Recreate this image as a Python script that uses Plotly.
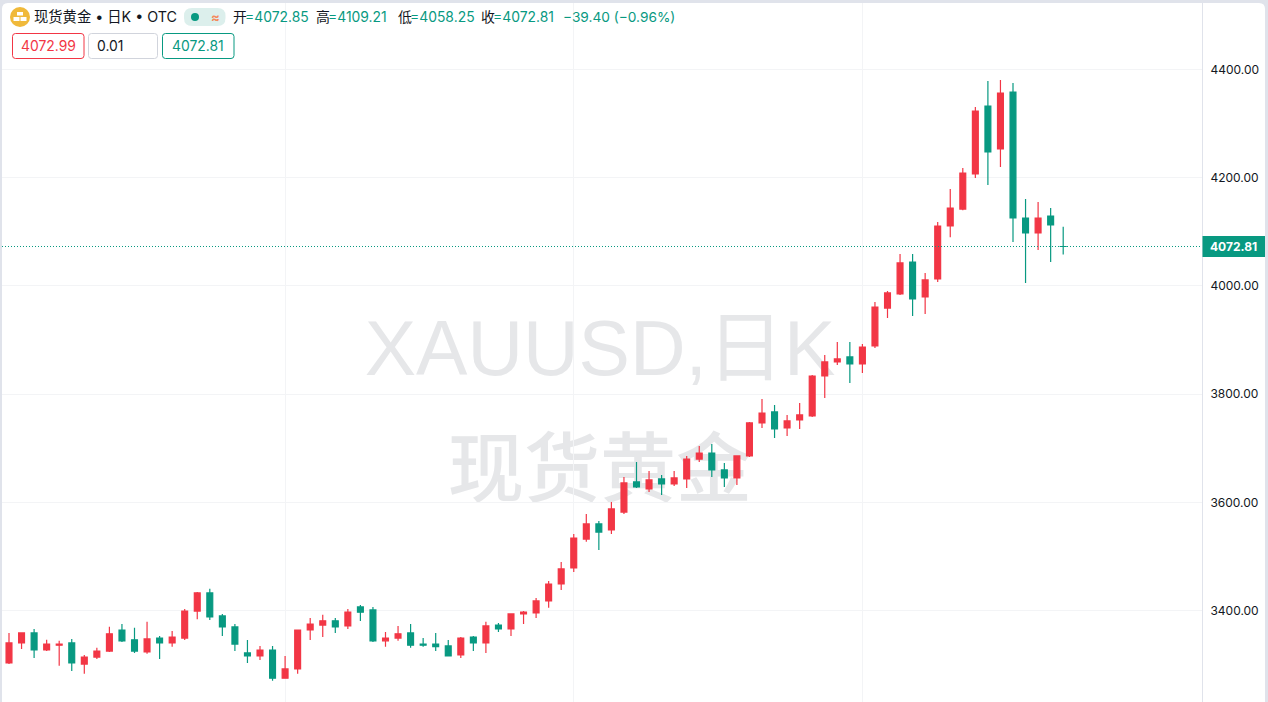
import plotly.graph_objects as go

GREEN = "#089981"
RED = "#f23645"
INK = "#131722"
FONT = "Inter, 'Noto Sans CJK SC', sans-serif"

opens = [3303,3340,3358.6,3327,3336,3340,3301,3314,3325,3364,3346,3323.5,3349,3340,3349,3399,3432.5,3390,3369.7,3321.6,3316,3327,3275,
         3292,3364,3373,3381,3371.5,3406.6,3401,3344,3349,3358.6,3338,3338,3334.5,3318,3351,3340,3373,3366,3393.7,3395.5,3417.7,3449,3478.7,
         3532,3560,3549,3582,3637.7,3624.7,3643.2,3634,3643.2,3680,3691,3659.8,3645,3685.7,3746.7,3767,3737.5,3752.2,3759.6,3833.5,3859.4,3868.7,3855.7,
         3889,3959,3985,4044,3979.5,4012.8,4110.7,4142,4206.8,4332.5,4253,4358.3,4125.5,4097.8,4129,4072.85]
highs = [3358.6,3360,3366,3346,3344,3347.5,3318,3331,3370,3375,3368,3379,3353,3362,3403,3434,3440,3393.7,3375,3345.6,3334.5,3334.5,3316,
         3364,3386,3392,3386,3403,3410,3406.6,3360.4,3371.5,3375,3349,3358.6,3345.6,3351,3353,3379,3377,3393.7,3399,3423,3454.7,3489.8,3541.6,
         3578.5,3565.6,3600.7,3646.9,3674.6,3658,3650.6,3658,3685.7,3704,3708,3672.8,3685.7,3748.5,3791,3780,3761.5,3783.7,3835.4,3872.4,3896.4,3896.4,3892.7,
         3970.3,3990.6,4059,4059,4023.9,4118,4179,4218,4330.6,4378.7,4380.5,4375,4160.6,4155,4144,4109.21]
lows = [3301,3329,3312,3325,3298,3288,3283,3310.5,3323.5,3342,3321.6,3320,3310.5,3333,3345.6,3384,3382.6,3353,3325,3303,3308.7,3270,3275,
        3283,3345.6,3351,3358.6,3366,3380.8,3342,3333,3344,3331,3333,3325,3316,3312,3325,3321.6,3360.4,3353,3375,3386,3405,3438,3471.3,
        3527,3512,3541.6,3578.5,3626.6,3619,3613.6,3630,3626.6,3674.6,3646.9,3628.4,3632,3683.8,3737.5,3719,3722.6,3735.6,3757.8,3792.9,3853.9,3820.6,3839,
        3885.3,3940.7,3983,3944.4,3948,4007,4090,4140,4199.4,4186.5,4219.7,4081,4005.4,4066.4,4044,4058.25]
closes = [3340,3358.6,3327,3338,3338,3303,3314,3325,3357,3344,3325,3347.5,3340,3351,3399,3432.5,3388,3369.7,3338,3316,3327,3275,3292,
          3364,3375,3381,3369.7,3397,3397,3344,3349,3357,3336,3336,3333,3316,3349,3340,3371.5,3366,3393.7,3397,3417.7,3449,3476.9,3534,
          3560,3545,3587.8,3635.8,3628.4,3641.4,3634,3645,3680,3691,3659.8,3645,3685.7,3746.7,3765,3735.6,3750.4,3761.5,3833.5,3859.4,3865,3855.7,3887,
          3961,3987,4042.4,3975.8,4011,4110.7,4144,4208.7,4323,4247.5,4356.5,4125.5,4097.8,4125.5,4112.6,4072.81]
price_ticks = [3400, 3600, 3800, 4000, 4200, 4400]
time_ticks = [22, 45, 68]
last_price = 4072.81
bars = list(range(len(opens)))


def X(px):
    return px / 1268


def Y(py):
    return 1 - py / 702


def round_rect(x0, y0, x1, y1, r, fill, line=None, layer="below", tl=True, tr=True, bl=True, br=True):
    a, b, c, d = X(x0), Y(y0), X(x1), Y(y1)
    rx, ry = r / 1268, r / 702
    p = f"M{a + (rx if tl else 0)},{b} L{c - (rx if tr else 0)},{b} "
    p += f"Q{c},{b} {c},{b - ry} " if tr else ""
    p += f"L{c},{d + (ry if br else 0)} "
    p += f"Q{c},{d} {c - rx},{d} " if br else ""
    p += f"L{a + (rx if bl else 0)},{d} "
    p += f"Q{a},{d} {a},{d + ry} " if bl else ""
    p += f"L{a},{b - (ry if tl else 0)} "
    p += f"Q{a},{b} {a + rx},{b} " if tl else ""
    p += "Z"
    return dict(type="path", xref="paper", yref="paper", path=p, fillcolor=fill,
                line=dict(color=line or fill, width=1 if line else 0), layer=layer)


def box(x0, y0, x1, y1, fill):
    return dict(type="rect", xref="paper", yref="paper", x0=X(x0), x1=X(x1), y0=Y(y0), y1=Y(y1),
                fillcolor=fill, line=dict(width=0), layer="above")


def circle(cx, cy, r, fill):
    return dict(type="circle", xref="paper", yref="paper", x0=X(cx - r), x1=X(cx + r), y0=Y(cy - r), y1=Y(cy + r),
                fillcolor=fill, line=dict(width=0), layer="above")


def text(px, py, s, color=INK, size=13.9, anchor="left", bold=False):
    return dict(xref="paper", yref="paper", x=X(px), y=Y(py), text=f"<b>{s}</b>" if bold else s,
                showarrow=False, xanchor=anchor, yanchor="middle",
                font=dict(family=FONT, size=size, color=color))


def watermark(x0, y0, x1, y1, s, size, family, weight=400):
    return dict(type="rect", xref="paper", yref="paper", x0=X(x0), x1=X(x1), y0=Y(y0), y1=Y(y1),
                line=dict(width=0), fillcolor="rgba(0,0,0,0)", layer="below",
                label=dict(text=s, textposition="middle center",
                           font=dict(family=family, size=size, color="#e6e7e9", weight=weight)))


fig = go.Figure(go.Candlestick(
    x=bars, open=opens, high=highs, low=lows, close=closes,
    increasing=dict(line=dict(color=RED, width=1.2), fillcolor=RED),
    decreasing=dict(line=dict(color=GREEN, width=1.2), fillcolor=GREEN),
    whiskerwidth=0, hoverinfo="skip", showlegend=False,
))

shapes = [
    round_rect(2, 3, 1265, 702, 6, "#ffffff", bl=False, br=False),
    watermark(300, 293, 900, 388, "XAUUSD,日K", 77, "'Liberation Sans', 'Noto Sans CJK SC', sans-serif"),
    watermark(300, 430, 900, 520, "现货黄金", 76, "'Noto Sans CJK SC', sans-serif", weight=500),
    dict(type="line", xref="paper", yref="y", x0=X(2), x1=X(1202), y0=last_price, y1=last_price,
         line=dict(color=GREEN, width=1, dash="1px,2px"), layer="above"),
    box(1202.5, 236, 1265, 257, GREEN),
    circle(20, 17, 10, "#f0b93a"),
    box(17, 12, 23, 15.5, "#ffffff"),
    box(13.5, 17, 19.5, 21, "#ffffff"),
    box(20.5, 17, 26.5, 21, "#ffffff"),
    round_rect(184, 8, 225.5, 26, 8, "#dcefec", layer="above"),
    circle(195, 17, 4, GREEN),
    round_rect(12.5, 33.5, 84, 58.5, 3, "#ffffff", line=RED, layer="above"),
    round_rect(88.5, 33.5, 157.5, 58.5, 3, "#ffffff", line="#d1d4dc", layer="above"),
    round_rect(162.5, 33.5, 234, 58.5, 3, "#ffffff", line=GREEN, layer="above"),
]

annotations = [
    text(32, 17, "现货黄金 • 日K • OTC", size=14.3),
    text(215, 17, "≈", color="#f58a5c", size=13, anchor="center", bold=True),
    text(231, 17, "开"), text(243, 17, "=4072.85", color=GREEN),
    text(314, 17, "高"), text(326, 17, "=4109.21", color=GREEN),
    text(396, 17, "低"), text(408, 17, "=4058.25", color=GREEN),
    text(479, 17, "收"), text(491, 17, "=4072.81", color=GREEN),
    text(561, 17, "−39.40 (−0.96%)", color=GREEN, size=13.7),
    text(48, 46, "4072.99", color=RED, anchor="center"),
    text(95, 46, "0.01"),
    text(198, 46, "4072.81", color=GREEN, anchor="center"),
    text(1233.5, 246.5, "4072.81", color="#ffffff", size=12, anchor="center", bold=True),
]

fig.update_layout(
    width=1268, height=702, autosize=False,
    margin=dict(l=0, r=0, t=0, b=0, pad=0),
    paper_bgcolor="#e0e3eb", plot_bgcolor="rgba(0,0,0,0)",
    boxgap=0.33, showlegend=False, hovermode=False,
    shapes=shapes, annotations=annotations,
    font=dict(family=FONT, color=INK),
    xaxis=dict(domain=[X(2), X(1202)], range=[-0.558, 95.06], rangeslider=dict(visible=False),
               tickvals=time_ticks, showticklabels=False, ticks="", showline=False, zeroline=False,
               showgrid=True, gridcolor="#f3f4f6", gridwidth=1),
    yaxis=dict(domain=[0, Y(3)], range=[3230.9, 4522.9], side="right", anchor="x",
               tickvals=price_ticks, ticktext=[f"{v:.2f}" for v in price_ticks], ticks="",
               ticklabelstandoff=5, tickfont=dict(family=FONT, size=12, color=INK),
               showgrid=True, gridcolor="#f3f4f6", gridwidth=1, zeroline=False,
               showline=True, linecolor="#e0e3eb", linewidth=1),
)

fig.write_html("out.html", config=dict(displayModeBar=False, staticPlot=True),
               post_script="document.body.style.margin='0';")
